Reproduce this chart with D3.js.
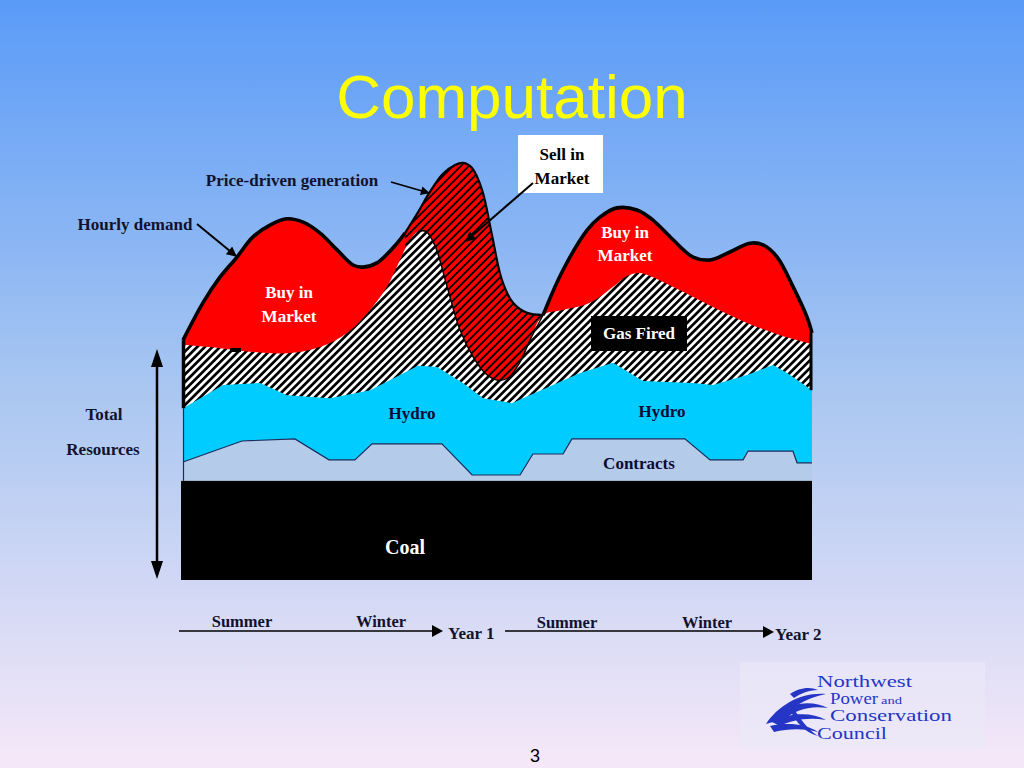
<!DOCTYPE html>
<html>
<head>
<meta charset="utf-8">
<script src="https://cdn.jsdelivr.net/npm/d3@7"></script>
<style>
  html, body { margin: 0; padding: 0; }
  svg { display: block; }
</style>
</head>
<body>
<script>
// ---------------- DATA ----------------
// x in months (0..24 = two years), y in relative resource units (0..100)
const title = "Computation";
const coalLevel = 23.6;

const contractsX = [0, 2.25, 4.27, 5.57, 6.56, 7.21, 9.88, 11.03, 12.86, 13.35, 14.50, 14.84, 19.15, 20.11, 21.37, 21.56, 23.27, 23.43, 24];
const contractsY = [28.1, 33.1, 33.6, 28.6, 28.6, 32.4, 32.4, 25.0, 25.0, 30.0, 30.0, 33.6, 33.6, 28.6, 28.6, 30.7, 30.7, 27.9, 27.9];

const hydroX = [0, 1.53, 2.94, 3.97, 5.61, 7.14, 8.97, 9.69, 10.68, 11.45, 12.55, 12.97, 15.15, 16.41, 17.55, 19.46, 20.22, 21.52, 22.51, 23.05, 24];
const hydroY = [40.9, 46.4, 46.9, 44.0, 43.3, 45.2, 51.0, 50.7, 46.9, 43.3, 42.1, 43.3, 49.3, 51.7, 47.4, 46.9, 46.4, 48.8, 51.2, 49.3, 45.2];

const gasX = [0, 1.41, 2.67, 3.97, 5.23, 6.26, 7.14, 7.78, 8.28, 8.66, 8.97, 9.27, 9.62, 10.07, 10.57, 11.07, 11.52, 11.98, 12.40, 12.86, 13.24, 13.74, 14.50, 15.53, 16.41, 16.94, 17.44, 17.93, 18.96, 20.22, 21.52, 22.78, 23.85, 24];
const gasY = [56.0, 55.2, 54.3, 54.0, 55.5, 58.8, 64.3, 69.8, 76.2, 81.0, 83.0, 83.0, 79.5, 70.0, 59.5, 53.1, 49.3, 47.6, 48.1, 51.9, 57.1, 63.1, 64.3, 66.0, 69.8, 72.4, 73.1, 72.1, 69.0, 65.0, 61.2, 58.3, 56.4, 56.0];

const demandX = [0, 0.76, 1.41, 2.06, 2.67, 3.32, 3.97, 4.58, 5.23, 5.88, 6.49, 6.87, 7.40, 8.17, 8.47, 11.0, 13.74, 14.50, 15.42, 15.91, 16.56, 17.32, 17.93, 18.70, 19.46, 20.11, 20.87, 21.63, 22.13, 22.67, 23.28, 23.81, 24];
const demandY = [57.1, 66.0, 72.1, 76.9, 81.7, 84.5, 86.0, 85.2, 82.6, 78.6, 75.0, 74.5, 75.5, 80.2, 82.6, null, 63.1, 73.8, 83.3, 86.4, 88.6, 88.1, 85.7, 81.0, 76.9, 76.2, 78.1, 80.2, 79.8, 76.9, 69.8, 62.6, 58.8];

const priceGenX = [8.47, 8.97, 9.42, 9.92, 10.38, 10.68, 11.03, 11.41, 11.79, 12.17, 12.59, 13.13, 13.74];
const priceGenY = [82.6, 87.6, 92.4, 96.7, 98.8, 99.3, 98.1, 92.9, 82.1, 71.4, 66.0, 63.6, 63.1];

const seasonLabels = ["Summer", "Winter", "Summer", "Winter"];
const yearLabels = ["Year 1", "Year 2"];
const logoLines = ["Northwest", "Power", "and", "Conservation", "Council"];

// ---------------- DRAWING ----------------
const W = 1024, H = 768;
const svg = d3.select("body").append("svg").attr("width", W).attr("height", H);
const defs = svg.append("defs");

const bg = defs.append("linearGradient").attr("id", "bg").attr("x1", 0).attr("y1", 0).attr("x2", 0).attr("y2", 1);
bg.append("stop").attr("offset", "0%").attr("stop-color", "#5a9bf8");
bg.append("stop").attr("offset", "50%").attr("stop-color", "#a8c6f1");
bg.append("stop").attr("offset", "100%").attr("stop-color", "#f6e8f8");
svg.append("rect").attr("width", W).attr("height", H).attr("fill", "url(#bg)");

const gasPat = defs.append("pattern").attr("id", "gasHatch").attr("patternUnits", "userSpaceOnUse")
  .attr("width", 5.4).attr("height", 5.4).attr("patternTransform", "rotate(45)");
gasPat.append("rect").attr("width", 5.4).attr("height", 5.4).attr("fill", "#ffffff");
gasPat.append("rect").attr("width", 2.7).attr("height", 5.4).attr("fill", "#000000");

const sellPat = defs.append("pattern").attr("id", "sellHatch").attr("patternUnits", "userSpaceOnUse")
  .attr("width", 5.6).attr("height", 5.6).attr("patternTransform", "rotate(45)");
sellPat.append("rect").attr("width", 5.6).attr("height", 5.6).attr("fill", "#ff0000");
sellPat.append("rect").attr("width", 1.8).attr("height", 5.6).attr("fill", "#000000");

const arrowHead = defs.append("marker").attr("id", "ah").attr("viewBox", "0 0 10 10")
  .attr("refX", 9).attr("refY", 5).attr("markerWidth", 6).attr("markerHeight", 5)
  .attr("markerUnits", "strokeWidth").attr("orient", "auto");
arrowHead.append("path").attr("d", "M0,0 L10,5 L0,10 Z").attr("fill", "#000");

const x = d3.scaleLinear().domain([0, 24]).range([183, 812]);
const y = d3.scaleLinear().domain([0, 100]).range([580, 160]);

const pts = (xs, ys) => xs.map((d, i) => ({ m: d, v: ys[i] }));
const contracts = pts(contractsX, contractsY);
const hydro = pts(hydroX, hydroY);
const gas = pts(gasX, gasY);
const demand = pts(demandX, demandY);
const priceGen = pts(priceGenX, priceGenY);

const smooth = d3.curveCatmullRom.alpha(0.5);
const base = y(coalLevel);

const areaGen = (curve) => d3.area().defined(d => d.v != null)
  .x(d => x(d.m)).y0(base).y1(d => y(d.v)).curve(curve);
const lineGen = (curve) => d3.line().defined(d => d.v != null)
  .x(d => x(d.m)).y(d => y(d.v)).curve(curve);

// Title
svg.append("text").attr("x", 512).attr("y", 118).attr("text-anchor", "middle")
  .attr("font-family", "Liberation Sans, Arial, sans-serif").attr("font-size", 62)
  .attr("fill", "#ffff00").text(title);

const g = svg.append("g");
// Buy in market (red, up to hourly demand)
g.append("path").datum(demand).attr("d", areaGen(smooth)).attr("fill", "#ff0000");
// Sell in market (price-driven generation)
g.append("path").datum(priceGen).attr("d", areaGen(smooth)).attr("fill", "url(#sellHatch)");
// Gas fired
g.append("path").datum(gas).attr("d", areaGen(smooth)).attr("fill", "url(#gasHatch)");
// Hydro
g.append("path").datum(hydro).attr("d", areaGen(d3.curveLinear)).attr("fill", "#00ccff");
// Contracts
g.append("path").datum(contracts).attr("d", areaGen(d3.curveLinear)).attr("fill", "#b4cbe9");
g.append("path").datum(contracts).attr("d", lineGen(d3.curveLinear))
  .attr("fill", "none").attr("stroke", "#1c2c5c").attr("stroke-width", 1.2);
// Coal
g.append("rect").attr("x", x(0) - 2).attr("y", y(coalLevel)).attr("width", x(24) - x(0) + 2)
  .attr("height", y(0) - y(coalLevel)).attr("fill", "#000");

// Outlines
const gasInSell = gas.filter(d => d.m >= priceGenX[0] + 0.3 && d.m <= priceGenX[priceGenX.length - 1]);
g.append("path").datum(gasInSell).attr("d", lineGen(smooth))
  .attr("fill", "none").attr("stroke", "#000").attr("stroke-width", 1.4);
g.append("path").datum(priceGen).attr("d", lineGen(smooth))
  .attr("fill", "none").attr("stroke", "#000").attr("stroke-width", 2.2);
g.append("path").datum(demand).attr("d", lineGen(smooth))
  .attr("fill", "none").attr("stroke", "#000").attr("stroke-width", 3.6).attr("stroke-linejoin", "round");
// edges
g.append("line").attr("x1", x(0) + 0.5).attr("x2", x(0) + 0.5).attr("y1", y(demandY[0])).attr("y2", y(hydroY[0]))
  .attr("stroke", "#000").attr("stroke-width", 3.5);
g.append("line").attr("x1", x(0) + 0.5).attr("x2", x(0) + 0.5).attr("y1", y(hydroY[0])).attr("y2", base)
  .attr("stroke", "#1c2c5c").attr("stroke-width", 1.2);
g.append("line").attr("x1", x(24) - 1).attr("x2", x(24) - 1).attr("y1", y(demandY[demandY.length - 1])).attr("y2", y(hydroY[hydroY.length - 1]))
  .attr("stroke", "#000").attr("stroke-width", 3);
// small dash remnant
g.append("rect").attr("x", 230).attr("y", 348).attr("width", 11).attr("height", 4).attr("fill", "#000");

// ---------------- LABELS ----------------
const serif = "Liberation Serif, Times New Roman, serif";
const ink = "#12122e";
function label(txt, lx, ly, opts = {}) {
  return svg.append("text").attr("x", lx).attr("y", ly)
    .attr("font-family", serif).attr("font-weight", "bold")
    .attr("font-size", opts.size || 17).attr("fill", opts.fill || ink)
    .attr("text-anchor", opts.anchor || "middle").text(txt);
}

label("Price-driven generation", 292, 186);
svg.append("line").attr("x1", 391).attr("y1", 182).attr("x2", 429).attr("y2", 193)
  .attr("stroke", "#000").attr("stroke-width", 1.8).attr("marker-end", "url(#ah)");

label("Hourly demand", 135, 230);
svg.append("line").attr("x1", 197).attr("y1", 224).attr("x2", 236).attr("y2", 256)
  .attr("stroke", "#000").attr("stroke-width", 2).attr("marker-end", "url(#ah)");

svg.append("rect").attr("x", 518).attr("y", 135).attr("width", 85).attr("height", 58).attr("fill", "#fff");
label("Sell in", 562, 160, { fill: "#000" });
label("Market", 562, 184, { fill: "#000" });
svg.append("line").attr("x1", 533).attr("y1", 183).attr("x2", 466).attr("y2", 241)
  .attr("stroke", "#000").attr("stroke-width", 2).attr("marker-end", "url(#ah)");

label("Buy in", 289, 298, { fill: "#ffffff" });
label("Market", 289, 322, { fill: "#ffffff" });
label("Buy in", 625, 238, { fill: "#ffffff" });
label("Market", 625, 261, { fill: "#ffffff" });

svg.append("rect").attr("x", 591).attr("y", 316).attr("width", 96).attr("height", 35).attr("fill", "#000");
label("Gas Fired", 639, 339, { fill: "#ffffff" });

label("Hydro", 412, 419, { fill: "#0a0a36" });
label("Hydro", 662, 417, { fill: "#0a0a36" });
label("Contracts", 639, 469, { fill: "#0a0a36" });
label("Coal", 405, 554, { fill: "#ffffff", size: 20 });

label("Total", 104, 420);
label("Resources", 103, 455);
// double arrow
svg.append("line").attr("x1", 157).attr("x2", 157).attr("y1", 362).attr("y2", 566)
  .attr("stroke", "#000").attr("stroke-width", 2.5);
svg.append("path").attr("d", "M157,349 L151,367 L163,367 Z").attr("fill", "#000");
svg.append("path").attr("d", "M157,579 L151,561 L163,561 Z").attr("fill", "#000");

// time axis
svg.append("line").attr("x1", 179).attr("x2", 433).attr("y1", 631).attr("y2", 631).attr("stroke", "#000").attr("stroke-width", 1.5);
svg.append("path").attr("d", "M443,631 L432,625 L432,637 Z").attr("fill", "#000");
svg.append("line").attr("x1", 505).attr("x2", 764).attr("y1", 631).attr("y2", 631).attr("stroke", "#000").attr("stroke-width", 1.5);
svg.append("path").attr("d", "M774,632 L763,626 L763,638 Z").attr("fill", "#000");
const seasonPos = [[242, 627], [381, 627], [567, 628], [707, 628]];
seasonLabels.forEach((t, i) => label(t, seasonPos[i][0], seasonPos[i][1], { size: 16.5 }));
const yearPos = [[448, 639], [775, 640]];
yearLabels.forEach((t, i) => label(t, yearPos[i][0], yearPos[i][1], { anchor: "start", size: 17 }));

// logo
svg.append("rect").attr("x", 740).attr("y", 662).attr("width", 245).attr("height", 88).attr("fill", "#ebe9f8").attr("opacity", 0.6);
const blue = "#2536c6";
const logo = svg.append("g").attr("font-family", serif).attr("fill", blue);
const logoSpec = [
  { x: 817, y: 687, size: 16, len: 95 },
  { x: 830, y: 704, size: 16, len: 48 },
  { x: 881, y: 704, size: 11, len: 21 },
  { x: 830, y: 721, size: 16, len: 122 },
  { x: 817, y: 739, size: 16, len: 70 }
];
logoLines.forEach((t, i) => {
  const s = logoSpec[i];
  logo.append("text").attr("x", s.x).attr("y", s.y).attr("font-size", s.size)
    .attr("textLength", s.len).attr("lengthAdjust", "spacingAndGlyphs").text(t);
});
const sw = svg.append("g").attr("fill", blue).attr("stroke", "none");
sw.append("path").attr("d", "M766,724 C778,706 800,692 826,694 C806,698 790,708 780,720 Z");
sw.append("path").attr("d", "M776,716 C790,702 812,700 828,708 C810,705 794,710 784,720 Z");
sw.append("path").attr("d", "M772,722 C790,712 812,712 826,720 C808,717 792,720 780,726 Z");
sw.append("path").attr("d", "M770,726 C788,722 806,724 818,732 C802,728 788,729 774,732 Z");
sw.append("path").attr("d", "M792,706 C800,718 806,728 818,736 C804,732 796,722 790,710 Z");
sw.append("path").attr("d", "M790,694 C798,688 810,686 818,690 C808,690 800,694 794,698 Z");

// page number
svg.append("text").attr("x", 535).attr("y", 762).attr("text-anchor", "middle")
  .attr("font-family", "Liberation Sans, Arial, sans-serif").attr("font-size", 18).attr("fill", "#000").text("3");
</script>
</body>
</html>
